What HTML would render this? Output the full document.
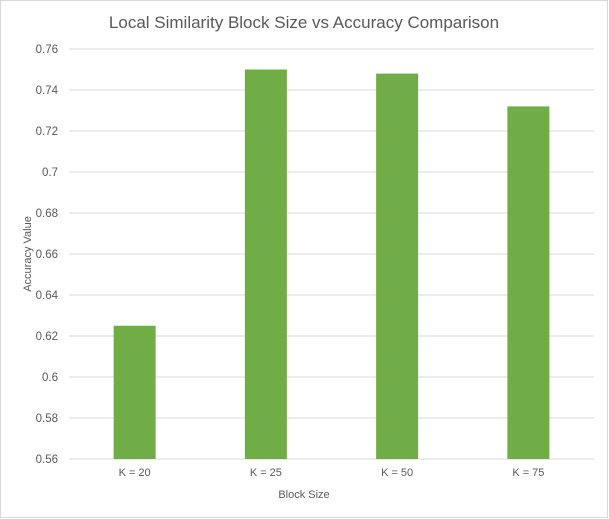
<!DOCTYPE html>
<html><head><meta charset="utf-8"><style>
body{margin:0;background:#fff;}
svg{display:block;font-family:"Liberation Sans",sans-serif;}
</style></head><body>
<svg width="609" height="519">
<rect x="0.5" y="0.5" width="607" height="517" fill="#fff" stroke="#d9d9d9"/>
<text x="304" y="28" text-anchor="middle" font-size="17" fill="#595959">Local Similarity Block Size vs Accuracy Comparison</text>
<g id="grid"></g><g id="bars"></g><g id="ylab"></g><g id="xlab"></g>
<text x="304" y="498" text-anchor="middle" font-size="11" fill="#595959">Block Size</text>
<text transform="translate(31,254) rotate(-90)" text-anchor="middle" font-size="11" fill="#595959">Accuracy Value</text>
</svg>
<script>
const categories=["K = 20","K = 25","K = 50","K = 75"];
const values=[0.625,0.750,0.748,0.732];
const yTicks=[0.56,0.58,0.6,0.62,0.64,0.66,0.68,0.7,0.72,0.74,0.76];
const yTickLabels=["0.56","0.58","0.6","0.62","0.64","0.66","0.68","0.7","0.72","0.74","0.76"];
const NS="http://www.w3.org/2000/svg";
const x0=69,x1=594,yTop=49,yBot=459,yMin=0.56,yMax=0.76;
const y=v=>yBot-(v-yMin)/(yMax-yMin)*(yBot-yTop);
const bw=(x1-x0)/categories.length;
function mk(t,a,p){const e=document.createElementNS(NS,t);for(const k in a)e.setAttribute(k,a[k]);p.appendChild(e);return e;}
const g=document.getElementById('grid'),b=document.getElementById('bars'),yl=document.getElementById('ylab'),xl=document.getElementById('xlab');
yTicks.forEach((t,i)=>{
 const l=mk('line',{x1:x0,x2:x1,y1:y(t),y2:y(t),stroke:'#d9d9d9','stroke-width':1},g);
 
 
 const tx=mk('text',{x:58,y:y(t)+4,'text-anchor':'end','font-size':11.5,fill:'#595959'},yl);
 tx.textContent=yTickLabels[i];
 
 
});
categories.forEach((c,i)=>{
 const cx=x0+bw*(i+0.5);
 const r=mk('rect',{x:cx-21,y:y(values[i]),width:42,height:yBot-y(values[i]),fill:'#70ad47'},b);
 
 
 const tx=mk('text',{x:cx,y:476,'text-anchor':'middle','font-size':11,fill:'#595959'},xl);
 tx.textContent=c;
 
 
});
</script>
</body></html>
